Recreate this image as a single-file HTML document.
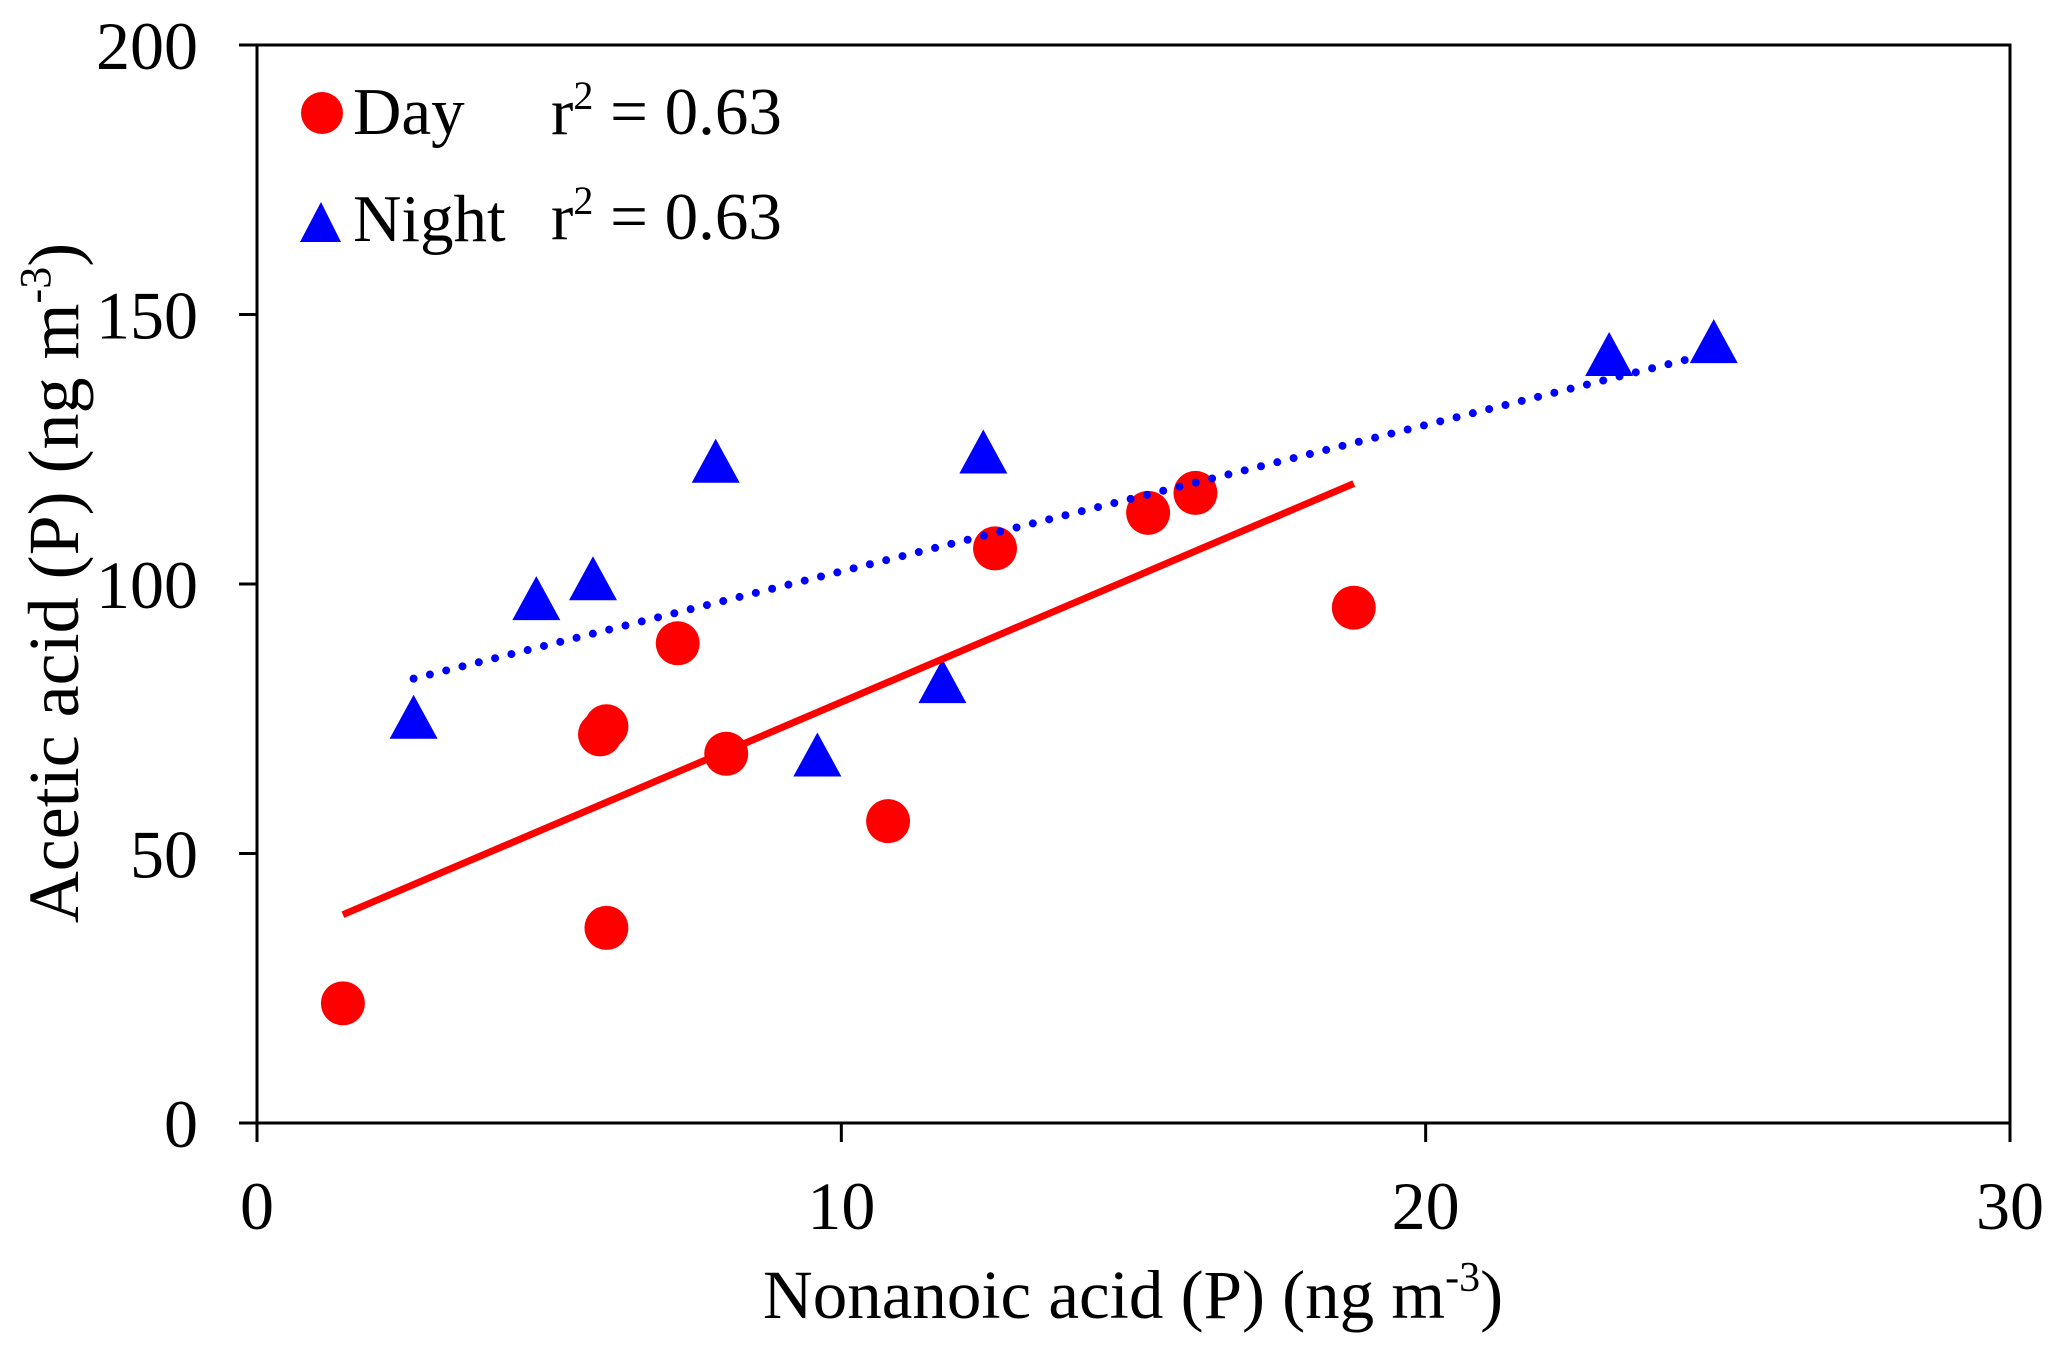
<!DOCTYPE html>
<html><head><meta charset="utf-8"><style>
html,body{margin:0;padding:0;background:#fff;}
svg{display:block;font-family:"Liberation Serif",serif;}
</style></head><body>
<svg id="chart" width="2067" height="1350" viewBox="0 0 2067 1350">
<g id="axes"></g>
<g id="marks"></g>
<g id="legend">
  <circle cx="322" cy="113" r="21" fill="#ff0000"/>
  <text x="353" y="134" font-size="67">Day</text>
  <text x="551" y="134" font-size="67">r<tspan dy="-25" font-size="40">2</tspan><tspan dy="25"> = 0.63</tspan></text>
  <polygon points="321,202 341,242 300,242" fill="#0000ff"/>
  <text x="353" y="241" font-size="67">Night</text>
  <text x="551" y="239" font-size="67">r<tspan dy="-25" font-size="40">2</tspan><tspan dy="25"> = 0.63</tspan></text>
</g>
<text x="1133" y="1318" font-size="69" text-anchor="middle">Nonanoic acid (P) (ng m<tspan dy="-27" font-size="42">-3</tspan><tspan dy="27">)</tspan></text>
<text transform="translate(78,583) rotate(-90)" font-size="72" text-anchor="middle">Acetic acid (P) (ng m<tspan dy="-28" font-size="44">-3</tspan><tspan dy="28">)</tspan></text>
</svg>
<script>
const xTicks = [0, 10, 20, 30];
const yTicks = [0, 50, 100, 150, 200];
const dayX = [1.47, 5.98, 5.87, 5.98, 7.2, 8.03, 10.8, 12.63, 15.25, 16.06, 18.77];
const dayY = [22.2, 36.2, 72.1, 73.6, 89, 68.5, 56, 106.6, 113.2, 116.9, 95.6];
const nightX = [2.68, 4.78, 5.75, 7.85, 9.59, 11.73, 12.43, 23.14, 24.93];
const nightY = [75, 97, 100.7, 122.5, 68, 81.6, 124.2, 142.3, 144.7];

const L=257, R=2010, T=45, B=1123;
const sx = v => L + (v-0)/(30-0)*(R-L);
const sy = v => B - (v-0)/(200-0)*(B-T);
const NS="http://www.w3.org/2000/svg";
function mk(tag, attrs, parent){const e=document.createElementNS(NS,tag);for(const k in attrs)e.setAttribute(k,attrs[k]);parent.appendChild(e);return e;}
const axes=document.getElementById('axes'), marks=document.getElementById('marks');

let e=mk('rect',{x:L,y:T,width:R-L,height:B-T,fill:'none',stroke:'#000','stroke-width':3},axes);


xTicks.forEach(t=>{
  let l=mk('line',{x1:sx(t),x2:sx(t),y1:B,y2:B+19,stroke:'#000','stroke-width':3},axes);
  
  
  let tx=mk('text',{x:sx(t),y:1229,'font-size':68,'text-anchor':'middle'},axes);
  tx.textContent=t;
  
  
});
yTicks.forEach(t=>{
  let l=mk('line',{x1:L-18,x2:L,y1:sy(t),y2:sy(t),stroke:'#000','stroke-width':3},axes);
  
  
  let tx=mk('text',{x:198,y:sy(t)+24,'font-size':68,'text-anchor':'end'},axes);
  tx.textContent=t;
  
  
});

function fit(xs,ys){const n=xs.length;let mx=0,my=0;for(let i=0;i<n;i++){mx+=xs[i];my+=ys[i];}mx/=n;my/=n;let sxy=0,sxx=0;for(let i=0;i<n;i++){sxy+=(xs[i]-mx)*(ys[i]-my);sxx+=(xs[i]-mx)**2;}const b=sxy/sxx;return [b,my-b*mx];}

dayX.forEach((x,i)=>{
  let c=mk('circle',{cx:sx(x),cy:sy(dayY[i]),r:22,fill:'#ff0000'},marks);
  
  
});
nightX.forEach((x,i)=>{
  const cx=sx(x), cy=sy(nightY[i]);
  let p=mk('polygon',{points:`${cx},${cy-24} ${cx+24},${cy+20} ${cx-24},${cy+20}`,fill:'#0000ff'},marks);
  
  
});
let [bd,ad]=fit(dayX,dayY);
let x0=Math.min(...dayX), x1=Math.max(...dayX);
let ld=mk('line',{x1:sx(x0),y1:sy(ad+bd*x0),x2:sx(x1),y2:sy(ad+bd*x1),stroke:'#ff0000','stroke-width':7},marks);


let [bn,an]=fit(nightX,nightY);
let n0=Math.min(...nightX), n1=Math.max(...nightX)-0.4;
let ln=mk('line',{x1:sx(n0),y1:sy(an+bn*n0),x2:sx(n1),y2:sy(an+bn*n1),stroke:'#0000ff','stroke-width':8,'stroke-linecap':'round','stroke-dasharray':'0 16.8'},marks);


</script>
</body></html>
